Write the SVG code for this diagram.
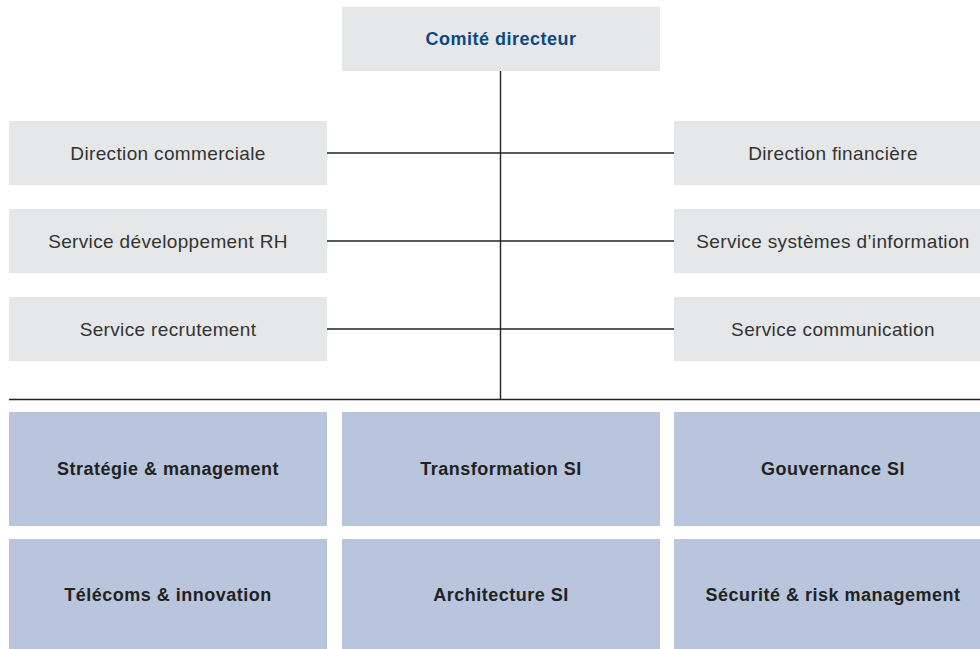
<svg xmlns="http://www.w3.org/2000/svg" width="980" height="649" viewBox="0 0 980 649">
<style>
.g{fill:#e6e7e9}
.b{fill:#b8c5dd}
.t{font-family:"Liberation Sans",Arial,sans-serif;font-size:19px;letter-spacing:0.35px;fill:#333;text-anchor:middle;dominant-baseline:central}
.tb{font-family:"Liberation Sans",Arial,sans-serif;font-size:18px;letter-spacing:0.5px;font-weight:bold;fill:#222;text-anchor:middle;dominant-baseline:central}
.h{fill:#0b4a80}
.c{stroke:#222;stroke-width:1.4;fill:none}
</style>
<rect width="980" height="649" fill="#fff"/>
<g id="connectors">
<line class="c" x1="500.5" y1="70" x2="500.5" y2="399.5"/>
<line class="c" x1="327" y1="153" x2="674" y2="153"/>
<line class="c" x1="327" y1="241" x2="674" y2="241"/>
<line class="c" x1="327" y1="329" x2="674" y2="329"/>
<line class="c" x1="9" y1="399.5" x2="980" y2="399.5"/>
</g>
<g id="comite"><rect class="g" x="342" y="7" width="318" height="64"/><text class="tb h" x="501" y="39">Comité directeur</text></g>
<g id="dir-commerciale"><rect class="g" x="9" y="121" width="318" height="64"/><text class="t" x="168" y="153">Direction commerciale</text></g>
<g id="serv-dev-rh"><rect class="g" x="9" y="209" width="318" height="64"/><text class="t" x="168" y="241">Service développement RH</text></g>
<g id="serv-recrutement"><rect class="g" x="9" y="297" width="318" height="64"/><text class="t" x="168" y="329">Service recrutement</text></g>
<g id="dir-financiere"><rect class="g" x="674" y="121" width="306" height="64"/><text class="t" x="833" y="153">Direction financière</text></g>
<g id="serv-si"><rect class="g" x="674" y="209" width="306" height="64"/><text class="t" x="833" y="241">Service systèmes d’information</text></g>
<g id="serv-comm"><rect class="g" x="674" y="297" width="306" height="64"/><text class="t" x="833" y="329">Service communication</text></g>
<g id="strategie"><rect class="b" x="9" y="412" width="318" height="114"/><text class="tb" x="168" y="469">Stratégie &amp; management</text></g>
<g id="transformation"><rect class="b" x="342" y="412" width="318" height="114"/><text class="tb" x="501" y="469">Transformation SI</text></g>
<g id="gouvernance"><rect class="b" x="674" y="412" width="306" height="114"/><text class="tb" x="833" y="469">Gouvernance SI</text></g>
<g id="telecoms"><rect class="b" x="9" y="539" width="318" height="110"/><text class="tb" x="168" y="595">Télécoms &amp; innovation</text></g>
<g id="architecture"><rect class="b" x="342" y="539" width="318" height="110"/><text class="tb" x="501" y="595">Architecture SI</text></g>
<g id="securite"><rect class="b" x="674" y="539" width="306" height="110"/><text class="tb" x="833" y="595">Sécurité &amp; risk management</text></g>
</svg>
